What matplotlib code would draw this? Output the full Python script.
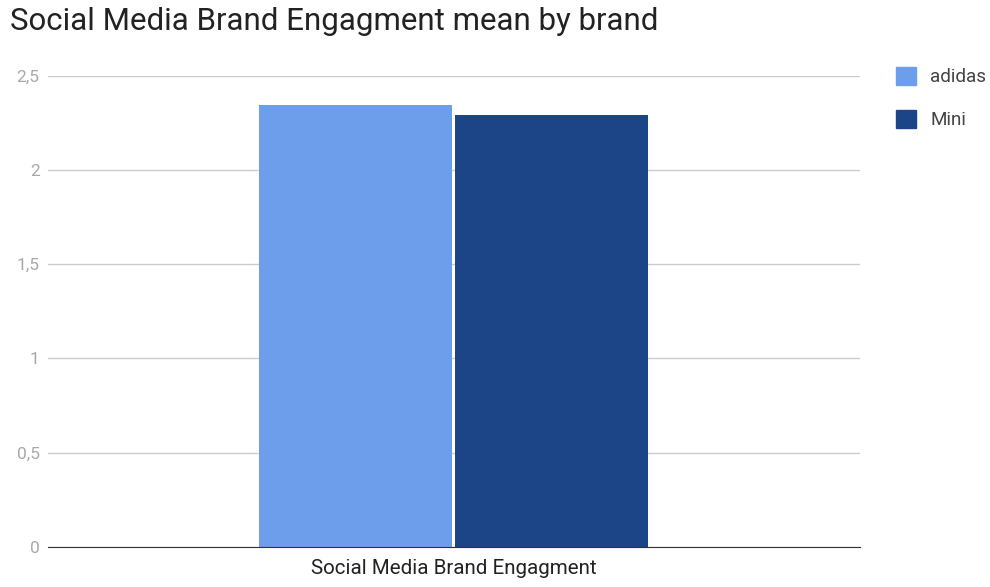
import matplotlib
matplotlib.use("Agg")
import matplotlib.pyplot as plt
from matplotlib.patches import Patch

plt.rcParams['font.family'] = ['Roboto', 'DejaVu Sans']

categories = ["Social Media Brand Engagment"]
series_names = ["adidas", "Mini"]
series_values = [[2.346], [2.291]]
colors = ["#6d9eeb", "#1c4587"]
yticks = [0, 0.5, 1, 1.5, 2, 2.5]
ytick_labels = ["0", "0,5", "1", "1,5", "2", "2,5"]

fig = plt.figure(figsize=(9.9, 5.87), dpi=100)
ax = fig.add_axes([48/990, 1-547/587, (860-48)/990, (547-75.7)/587])

width = 0.475
offsets = [-0.2426, 0.2405]
for name, vals, col, off in zip(series_names, series_values, colors, offsets):
    xs = [i + off for i in range(len(categories))]
    ax.bar(xs, vals, width=width, color=col, label=name, zorder=3)

ax.set_xlim(-1, 1)
ax.set_ylim(0, 2.5)
ax.set_yticks(yticks)
ax.set_yticklabels(ytick_labels)
ax.set_xticks(range(len(categories)))
ax.set_xticklabels(categories)
ax.tick_params(axis='y', length=0, labelsize=12.5, labelcolor="#a8a8a8", pad=6)
ax.tick_params(axis='x', length=0, labelsize=14.8, labelcolor="#222222", pad=9)
for lab in ax.get_yticklabels():
    lab.set_horizontalalignment('right')
ax.grid(axis='y', color="#cccccc", linewidth=1, zorder=0)
for s in ["top", "right", "left"]:
    ax.spines[s].set_visible(False)
ax.spines["bottom"].set_color("#333333")
ax.spines["bottom"].set_zorder(4)

fig.text(10/990, 1-22/587, "Social Media Brand Engagment mean by brand",
         fontsize=22.5, color="#222222", va="center", ha="left")

handles = [Patch(facecolor=c, edgecolor=c) for c in colors]
leg = fig.legend(handles, series_names, loc="upper left",
                 bbox_to_anchor=(896/990, 1-67/587), frameon=False,
                 borderaxespad=0, borderpad=0,
                 fontsize=13.6, labelcolor="#444444", handlelength=1.06,
                 handleheight=1.06, labelspacing=1.25, handletextpad=0.74)
fig.savefig("out.png", dpi=100)
